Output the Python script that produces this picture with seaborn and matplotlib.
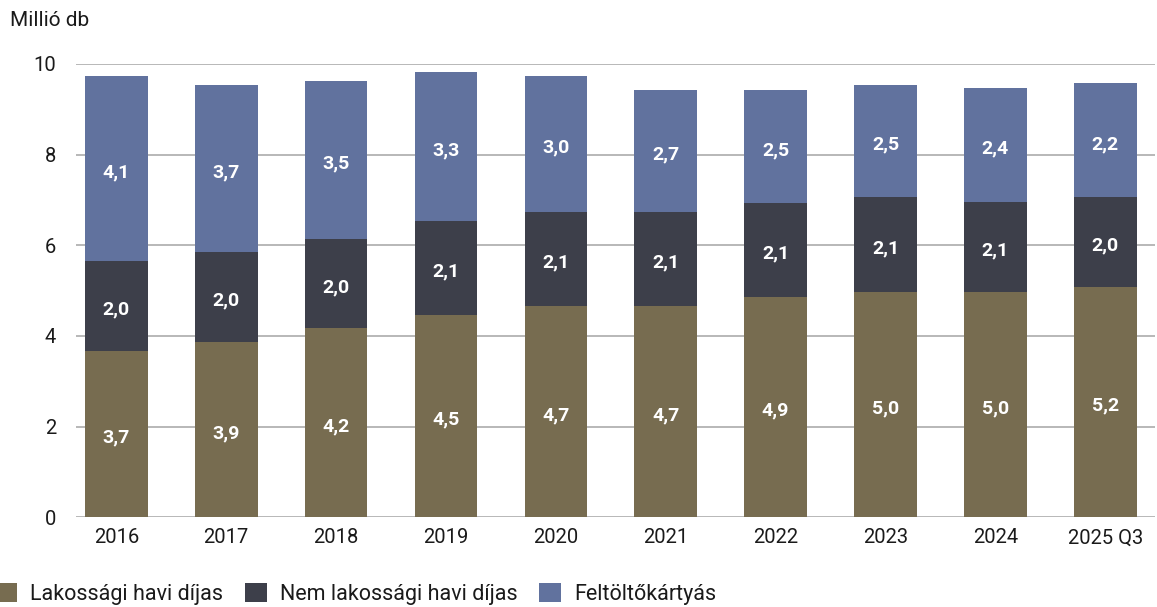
import numpy as np
import pandas as pd
import matplotlib
matplotlib.use('Agg')
import matplotlib.pyplot as plt
import seaborn as sns
from matplotlib.patches import Patch

years = ['2016', '2017', '2018', '2019', '2020', '2021', '2022', '2023', '2024', '2025 Q3']

# segment heights as drawn (million)
lakossagi = [3.67, 3.87, 4.18, 4.46, 4.66, 4.66, 4.86, 4.98, 4.98, 5.08]
nem_lakossagi = [1.98, 1.98, 1.96, 2.08, 2.08, 2.08, 2.07, 2.08, 1.98, 1.98]
feltolto = [4.08, 3.69, 3.49, 3.28, 2.99, 2.68, 2.49, 2.48, 2.52, 2.51]

# labels as printed on the chart
lak_labels = ['3,7', '3,9', '4,2', '4,5', '4,7', '4,7', '4,9', '5,0', '5,0', '5,2']
nem_labels = ['2,0', '2,0', '2,0', '2,1', '2,1', '2,1', '2,1', '2,1', '2,1', '2,0']
fel_labels = ['4,1', '3,7', '3,5', '3,3', '3,0', '2,7', '2,5', '2,5', '2,4', '2,2']

series_names = ['Lakossági havi díjas', 'Nem lakossági havi díjas', 'Feltöltőkártyás']
colors = ['#776C50', '#3D3F4A', '#61729E']

sns.set_style('white')
plt.rcParams['font.family'] = ['Roboto', 'DejaVu Sans']

df = pd.DataFrame({'year': years, 'lak': lakossagi, 'nem': nem_lakossagi, 'fel': feltolto})
df['b_nem'] = df['lak']
df['b_fel'] = df['lak'] + df['nem']

fig = plt.figure(figsize=(11.57, 6.07), dpi=100)
ax = fig.add_axes([0.0654, 0.1478, 0.9326, 0.7468])

w = 0.57
sns.barplot(data=df, x='year', y='lak', color=colors[0], width=w, saturation=1,
            linewidth=0, ax=ax, zorder=3)
sns.barplot(data=df, x='year', y='nem', bottom=df['b_nem'], color=colors[1], width=w,
            saturation=1, linewidth=0, ax=ax, zorder=3)
sns.barplot(data=df, x='year', y='fel', bottom=df['b_fel'], color=colors[2], width=w,
            saturation=1, linewidth=0, ax=ax, zorder=3)

for i in range(len(years)):
    mids = [lakossagi[i] / 2,
            lakossagi[i] + nem_lakossagi[i] / 2,
            lakossagi[i] + nem_lakossagi[i] + feltolto[i] / 2]
    for m, lab in zip(mids, [lak_labels[i], nem_labels[i], fel_labels[i]]):
        ax.text(i, m - 0.08, lab, ha='center', va='center', color='white',
                fontsize=14, fontweight='bold', zorder=4)

ax.set_ylim(0, 10)
ax.set_xlim(-0.37, 9.45)
ax.set_yticks([0, 2, 4, 6, 8, 10])
ax.yaxis.grid(True, color='#ABABAB', linewidth=1.2, zorder=0)
ax.set_axisbelow(True)
for s in ax.spines.values():
    s.set_visible(False)
ax.set_xlabel('')
ax.set_ylabel('')
ax.tick_params(axis='both', length=0, labelsize=14.5, colors='#1a1a1a')
ax.tick_params(axis='y', pad=14)
ax.tick_params(axis='x', pad=8)

fig.text(0.009, 0.967, 'Millió db', fontsize=15, color='#1a1a1a', va='center', ha='left')

handles = [Patch(facecolor=c, edgecolor='none') for c in colors]
fig.legend(handles, series_names, loc='center left', bbox_to_anchor=(-0.0043, 0.0214),
           ncol=3, frameon=False, fontsize=15.5, handlelength=1.02, handleheight=1.02,
           handletextpad=0.6, columnspacing=1.02, labelcolor='#1a1a1a',
           borderpad=0, borderaxespad=0)

fig.savefig('out.png', dpi=100)
